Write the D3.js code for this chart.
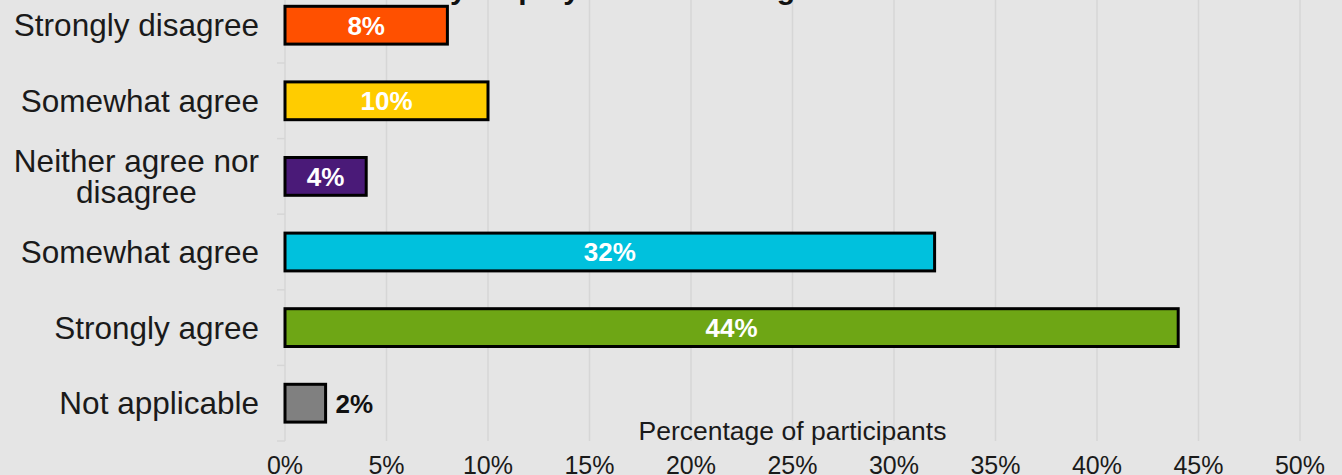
<!DOCTYPE html>
<html>
<head>
<meta charset="utf-8">
<script src="https://cdn.jsdelivr.net/npm/d3@7"></script>
<style>
  body { margin: 0; background: #e5e5e5; overflow: hidden; }
  svg { display: block; font-family: "Liberation Sans", Arial, sans-serif; }
</style>
</head>
<body>
<div id="chart"></div>
<script>
// answers, top to bottom (as written on the chart)
let categories = ["Strongly disagree", "Somewhat agree", "Neither agree nor disagree",
  "Somewhat agree", "Strongly agree", "Not applicable"];
let values = [8, 10, 4, 32, 44, 2];
let barColors = ["#ff5000", "#ffcc00", "#4a1a78", "#00c1dd", "#6ea615", "#808080"];
let xTicks = [0, 5, 10, 15, 20, 25, 30, 35, 40, 45, 50];
let titleText = "My employer has a strong commitment to ethics";
let xTitle = "Percentage of participants";

let svgWidth = 1342, svgHeight = 475;
let plotLeft = 285, plotRight = 1300;
let plotBottom = 441, step = 75.6;

let data = categories.map((c, i) => ({ id: i, label: c, value: values[i], color: barColors[i] }));

let svg = d3.select("#chart").append("svg")
  .attr("width", svgWidth)
  .attr("height", svgHeight);

svg.append("rect").attr("width", svgWidth).attr("height", svgHeight).attr("fill", "#e5e5e5");

let xScale = d3.scaleLinear().domain([0, 50]).range([plotLeft, plotRight]);
let yScale = d3.scaleBand()
  .domain(data.map(d => d.id))
  .range([plotBottom - step * data.length, plotBottom])
  .paddingInner(0.5)
  .paddingOuter(0.25);

// gridlines
svg.append("g").selectAll("line")
  .data(xTicks)
  .enter().append("line")
  .attr("x1", d => xScale(d)).attr("x2", d => xScale(d))
  .attr("y1", 0).attr("y2", plotBottom)
  .attr("stroke", "#d6d6d6")
  .attr("stroke-width", 1.5);

// small ticks on the category axis, at band edges
let edges = data.map(d => yScale(d.id) - yScale.step() * 0.25 + yScale.step());
svg.append("g").selectAll("line")
  .data(edges)
  .enter().append("line")
  .attr("x1", plotLeft - 8).attr("x2", plotLeft)
  .attr("y1", d => d).attr("y2", d => d)
  .attr("stroke", "#d6d6d6")
  .attr("stroke-width", 1.5);

// title, mostly cropped above the picture
svg.append("text")
  .attr("x", 425).attr("y", -1)
  .style("font-size", "30px").style("font-weight", "bold")
  .attr("fill", "#111")
  .text(titleText);

// bars
svg.append("g").selectAll("rect")
  .data(data)
  .enter().append("rect")
  .attr("x", xScale(0))
  .attr("y", d => yScale(d.id))
  .attr("width", d => xScale(d.value) - xScale(0))
  .attr("height", yScale.bandwidth())
  .attr("fill", d => d.color)
  .attr("stroke", "#000")
  .attr("stroke-width", 3);

// value labels
let valueLabels = svg.append("g").selectAll("text")
  .data(data)
  .enter().append("text")
  .attr("y", d => yScale(d.id) + yScale.bandwidth() / 2)
  .attr("dy", "0.36em")
  .style("font-size", "26px").style("font-weight", "bold")
  .text(d => d.value + "%");

valueLabels.each(function (d) {
  let w = this.getComputedTextLength();
  let barW = xScale(d.value) - xScale(0);
  let t = d3.select(this);
  if (barW > w + 12) {
    t.attr("x", xScale(0) + barW / 2).attr("text-anchor", "middle").attr("fill", "#fff");
  } else {
    t.attr("x", xScale(d.value) + 10).attr("text-anchor", "start").attr("fill", "#111");
  }
});

// category labels, wrapped, lines centred together, block right-aligned
let labelRight = 259, maxW = 262, lineH = 31;
let catLabels = svg.append("g").selectAll("text")
  .data(data)
  .enter().append("text")
  .style("font-size", "31.5px")
  .attr("fill", "#1a1a1a")
  .attr("text-anchor", "middle");

catLabels.each(function (d) {
  let t = d3.select(this);
  let words = d.label.split(" ");
  let lines = [];
  let line = [];
  let probe = t.append("tspan");
  words.forEach(w => {
    line.push(w);
    probe.text(line.join(" "));
    if (probe.node().getComputedTextLength() > maxW && line.length > 1) {
      line.pop();
      lines.push(line.join(" "));
      line = [w];
    }
  });
  lines.push(line.join(" "));
  let widest = 0;
  lines.forEach(l => {
    probe.text(l);
    widest = Math.max(widest, probe.node().getComputedTextLength());
  });
  probe.remove();
  let cy = yScale(d.id) + yScale.bandwidth() / 2;
  let y0 = cy - (lines.length - 1) * lineH / 2;
  lines.forEach((l, i) => {
    t.append("tspan")
      .attr("x", labelRight - widest / 2)
      .attr("y", y0 + i * lineH)
      .attr("dy", "0.35em")
      .text(l);
  });
});

// x tick labels
svg.append("g").selectAll("text")
  .data(xTicks)
  .enter().append("text")
  .attr("x", d => xScale(d))
  .attr("y", 474)
  .attr("text-anchor", "middle")
  .style("font-size", "25px")
  .attr("fill", "#1a1a1a")
  .text(d => d + "%");

// x axis title
svg.append("text")
  .attr("x", (plotLeft + plotRight) / 2)
  .attr("y", 440)
  .attr("text-anchor", "middle")
  .style("font-size", "26.5px")
  .attr("fill", "#1a1a1a")
  .text(xTitle);
</script>
</body>
</html>
